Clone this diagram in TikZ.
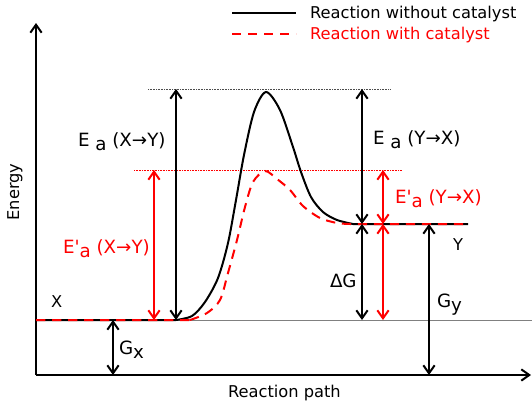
\documentclass[tikz,border=0pt]{standalone}
\usepackage{fontspec}
\newfontfamily\diagfont{DejaVu Sans}
\usetikzlibrary{arrows.meta}
\newcommand\lowsub[1]{\raisebox{-0.25em}{#1}}

\begin{document}
\begin{tikzpicture}[x=0.75pt, y=-0.75pt, line width=1.5pt,
    font=\diagfont\fontsize{12.2}{14}\selectfont,
    >={Straight Barb[length=6pt,width=8.5pt]},
    catal/.style={red, dash pattern=on 7pt off 5pt},
    guide/.style={line width=0.6pt, dash pattern=on 0.6pt off 0.6pt},
    lab/.style={anchor=base west, inner sep=0pt},
    biglab/.style={lab, font=\diagfont\fontsize{13.7}{16}\selectfont}]
  \useasboundingbox (0,0) rectangle (532,404);
  % axes
  \coordinate (O) at (36,375);
  \coordinate (ytip) at (36,23);
  \coordinate (xtip) at (531,375);
  \draw[->] (O) -- (ytip);
  \draw[->] (O) -- (xtip);
  \node[rotate=90] (energy) at (15,192) {Energy};
  \node[lab] (path) at (227,397) {Reaction path};
  % levels
  \coordinate (levX) at (36,320);
  \coordinate (levXend) at (532,320);
  \coordinate (levY) at (468,224);
  \coordinate (top) at (148,89);
  \coordinate (topEnd) at (391,89);
  \coordinate (ctop) at (134,170);
  \coordinate (ctopEnd) at (402,170);
  \draw[gray, line width=0.6pt] (levX) -- (levXend);
  \draw[guide, black!70] (top) -- (topEnd);
  \draw[guide, red] (ctop) -- (ctopEnd);
  % curves
  \draw (levX) -- (176,320)
    plot[smooth] coordinates {(176,320) (192,316) (205,302) (218,278)
      (228,243) (236,200) (244,155) (254,112) (266,92) (280,110)
      (293,147) (301,172) (311,197) (323,212) (337,220) (353,224)}
    -- (levY);
  \draw[catal] (levX) -- (190,320)
    plot[smooth] coordinates {(190,320) (207,313) (220,300) (228,273)
      (237,240) (245,207) (253,182) (265,171) (277,179) (290,190)
      (303,206) (320,218) (337,223) (350,224)}
    -- (levY);
  % arrows
  \foreach \xx/\from/\to/\col in {176/top/levX/black, 154/ctop/levX/red,
      362/top/levY/black, 383/ctop/levY/red, 362/levY/levX/black,
      383/levY/levX/red, 429/levY/O/black, 113/levX/O/black}
    \draw[<->, \col] (\xx,0 |- \from) -- (\xx,0 |- \to);
  % labels
  \node[biglab] (eaXY) at (77,146) {E \lowsub{a} (X→Y)};
  \node[biglab] (eaYX) at (372,144) {E \lowsub{a} (Y→X)};
  \node[biglab, red] (ecXY) at (62,253) {E'\lowsub{a} (X→Y)};
  \node[biglab, red] (ecYX) at (394,203) {E'\lowsub{a} (Y→X)};
  \node[biglab] (dG) at (329,287) {ΔG};
  \node[biglab] (Gy) at (436,307) {G\lowsub{y}};
  \node[biglab] (Gx) at (118,354) {G\lowsub{x}};
  \node[lab] (Xlab) at (50,307) {X};
  \node[lab] (Ylab) at (452,250) {Y};
  % legend
  \coordinate (leg1) at (232,13);
  \coordinate (leg1end) at (296,13);
  \coordinate (leg2) at (232,34);
  \coordinate (leg2end) at (296,34);
  \draw (leg1) -- (leg1end);
  \draw[catal] (leg2) -- (leg2end);
  \node[lab] (nocat) at (309,18) {Reaction without catalyst};
  \node[lab, red] (withcat) at (309,39) {Reaction with catalyst};
\end{tikzpicture}
\end{document}
